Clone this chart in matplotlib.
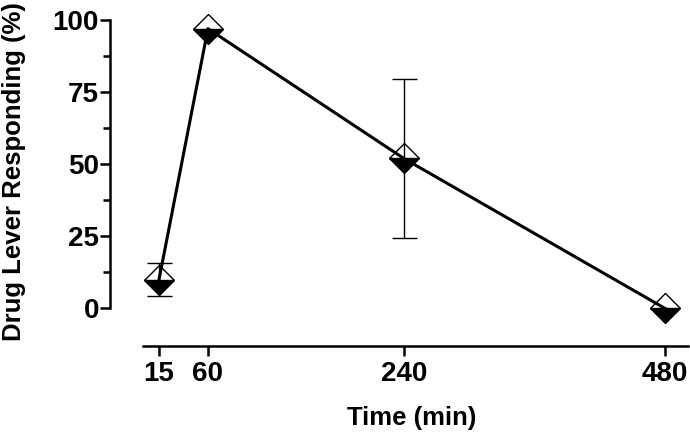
import matplotlib
matplotlib.use("Agg")
import matplotlib.pyplot as plt
from matplotlib.ticker import FixedLocator

plt.rcParams['font.family'] = ['Liberation Sans', 'DejaVu Sans']
plt.rcParams['font.weight'] = 'bold'

time_min = [15, 60, 240, 480]
response = [10, 97, 52, 0]
sem = [5.8, 0, 27.5, 0]
xtick_labels = ['15', '60', '240', '480']
yticks = [0, 25, 50, 75, 100]
yminor = [12.5, 37.5, 62.5, 87.5]

fig = plt.figure(figsize=(6.9, 4.34), dpi=100)
ax = fig.add_axes([110/690, 1-346/434, (688-110)/690, (346-20)/434])

ax.plot(time_min, response, linestyle='none', marker='D', markersize=15,
        fillstyle='bottom', markerfacecolor='black', markerfacecoloralt='white',
        markeredgecolor='black', markeredgewidth=1.0, zorder=2, clip_on=False)
errs = [(x, y, e) for x, y, e in zip(time_min, response, sem) if e > 0]
ax.errorbar([e[0] for e in errs], [e[1] for e in errs], yerr=[e[2] for e in errs],
            fmt='none', ecolor='black', elinewidth=1.0, capsize=9, capthick=1.0,
            zorder=3, clip_on=False)
ax.plot(time_min, response, color='black', linewidth=2.2, zorder=4, clip_on=False)

ax.set_xlim(-30, 501)
ax.set_ylim(-13, 100)
ax.spines['bottom'].set_bounds(0, 501)
ax.spines['left'].set_bounds(0, 100)
for s in ['top', 'right']:
    ax.spines[s].set_visible(False)
for s in ['bottom', 'left']:
    ax.spines[s].set_linewidth(1.8)

ax.set_xticks(time_min)
ax.set_xticklabels(xtick_labels)
ax.set_yticks(yticks)
ax.yaxis.set_minor_locator(FixedLocator(yminor))
ax.tick_params(axis='x', which='major', direction='out', length=7, width=1.8,
               labelsize=20, pad=4)
ax.tick_params(axis='y', which='major', direction='out', length=7, width=1.8,
               labelsize=20, pad=1)
ax.tick_params(axis='y', which='minor', direction='out', length=5, width=1.8)
for lab in ax.get_xticklabels() + ax.get_yticklabels():
    lab.set_fontweight('bold')

ax.set_xlabel('Time (min)', fontsize=18.5, fontweight='bold')
ax.xaxis.set_label_coords((412-110)/578, (346-418)/326)
ax.xaxis.label.set_verticalalignment('center')
ax.set_ylabel('Drug Lever Responding (%)', fontsize=18.5, fontweight='bold')
ax.yaxis.set_label_coords((14-110)/578, (346-172)/326)
ax.yaxis.label.set_verticalalignment('center')

fig.savefig('out.png', dpi=100)
